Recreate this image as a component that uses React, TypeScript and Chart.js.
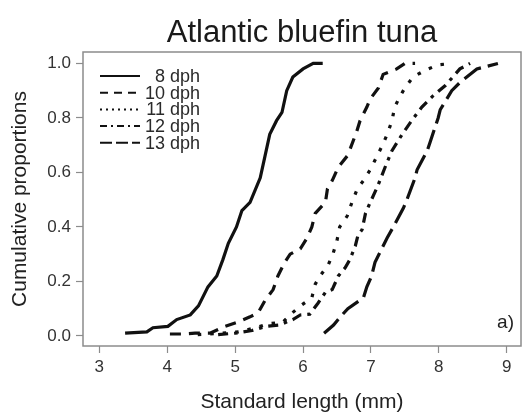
import React, { useEffect, useRef } from "react";
import { Chart, registerables } from "chart.js";

Chart.register(...registerables);

const titleText = "Atlantic bluefin tuna";
const xAxisTitle = "Standard length (mm)";
const yAxisTitle = "Cumulative proportions";
const panelLabel = "a)";

const xTickValues = [3, 4, 5, 6, 7, 8, 9];
const yTickValues = [0, 0.2, 0.4, 0.6, 0.8, 1.0];

const seriesLabels = ["8 dph", "10 dph", "11 dph", "12 dph", "13 dph"];

// 8 dph
const len8 = [3.38, 3.70, 3.79, 4.01, 4.14, 4.34, 4.46, 4.60, 4.73, 4.82, 4.90, 5.02, 5.10, 5.22, 5.37, 5.44, 5.51, 5.61, 5.69, 5.76, 5.85, 6.00, 6.15, 6.29];
const cum8 = [0.01, 0.015, 0.03, 0.035, 0.06, 0.077, 0.11, 0.18, 0.22, 0.28, 0.34, 0.40, 0.46, 0.49, 0.58, 0.66, 0.74, 0.79, 0.82, 0.90, 0.95, 0.98, 1.0, 1.0];

// 10 dph
const len10 = [4.04, 4.23, 4.41, 4.63, 4.85, 5.03, 5.22, 5.34, 5.44, 5.56, 5.63, 5.73, 5.81, 5.96, 6.06, 6.13, 6.18, 6.33, 6.36, 6.43, 6.52, 6.65, 6.70, 6.79, 6.84, 6.94, 6.99, 7.11, 7.18, 7.38, 7.50, 7.65];
const cum10 = [0.007, 0.007, 0.01, 0.01, 0.035, 0.05, 0.07, 0.085, 0.13, 0.17, 0.22, 0.27, 0.30, 0.32, 0.36, 0.40, 0.45, 0.49, 0.54, 0.57, 0.62, 0.66, 0.69, 0.75, 0.79, 0.84, 0.87, 0.91, 0.96, 0.98, 1.0, 1.0];

// 11 dph
const len11 = [4.45, 4.80, 5.05, 5.30, 5.50, 5.70, 5.84, 5.96, 6.13, 6.18, 6.25, 6.37, 6.44, 6.50, 6.54, 6.65, 6.72, 6.80, 6.89, 6.99, 7.09, 7.17, 7.24, 7.31, 7.35, 7.43, 7.50, 7.62, 7.80, 7.99, 8.19];
const cum11 = [0.005, 0.01, 0.015, 0.03, 0.045, 0.05, 0.084, 0.11, 0.14, 0.19, 0.22, 0.26, 0.30, 0.35, 0.40, 0.44, 0.49, 0.54, 0.57, 0.61, 0.66, 0.70, 0.74, 0.79, 0.84, 0.88, 0.91, 0.95, 0.975, 0.995, 1.0];

// 12 dph
const len12 = [4.75, 5.00, 5.25, 5.45, 5.65, 5.85, 5.96, 6.10, 6.22, 6.33, 6.43, 6.52, 6.62, 6.69, 6.77, 6.81, 6.87, 6.92, 6.99, 7.10, 7.21, 7.31, 7.46, 7.60, 7.75, 7.91, 8.10, 8.31, 8.46];
const cum12 = [0.005, 0.01, 0.02, 0.035, 0.04, 0.06, 0.077, 0.08, 0.12, 0.16, 0.17, 0.22, 0.25, 0.28, 0.33, 0.37, 0.39, 0.45, 0.49, 0.55, 0.62, 0.68, 0.74, 0.79, 0.84, 0.88, 0.92, 0.98, 1.0];

// 13 dph
const len13 = [6.31, 6.45, 6.55, 6.66, 6.89, 6.94, 7.01, 7.06, 7.16, 7.24, 7.33, 7.48, 7.53, 7.65, 7.68, 7.83, 7.87, 7.99, 8.02, 8.19, 8.31, 8.56, 8.72, 8.87];
const cum13 = [0.01, 0.04, 0.07, 0.10, 0.14, 0.18, 0.22, 0.27, 0.32, 0.36, 0.40, 0.47, 0.50, 0.58, 0.61, 0.68, 0.71, 0.80, 0.83, 0.90, 0.93, 0.98, 0.99, 1.0];

const FONT = '"Liberation Sans", Arial, Helvetica, sans-serif';

export default function App() {
  const ref = useRef<HTMLCanvasElement>(null);

  useEffect(() => {
    const canvas = ref.current;
    if (!canvas) return;
    const toPts = (xs: number[], ys: number[]) => xs.map((x, i) => ({ x, y: ys[i] }));
    const lens = [len8, len10, len11, len12, len13];
    const cums = [cum8, cum10, cum11, cum12, cum13];
    const dashes = [[], [11, 8], [3.5, 9], [10, 6, 3.5, 6], [20, 7]];
    const legendDashes = [[], [8, 6], [2, 4], [7, 4, 2, 4], [12, 4]];

    const decorPlugin = {
      id: "decor",
      afterDraw(chart: any) {
        const { ctx, chartArea: a } = chart;
        ctx.save();
        // frame
        ctx.strokeStyle = "#8c8c8c";
        ctx.lineWidth = 1.5;
        ctx.setLineDash([]);
        ctx.strokeRect(a.left, a.top, a.right - a.left, a.bottom - a.top);
        // title
        ctx.fillStyle = "#1a1a1a";
        ctx.font = `31px ${FONT}`;
        ctx.textAlign = "center";
        ctx.textBaseline = "alphabetic";
        ctx.fillText(titleText, (a.left + a.right) / 2, a.top - 10);
        // panel label
        ctx.font = `19px ${FONT}`;
        ctx.textAlign = "right";
        ctx.fillStyle = "#222";
        ctx.fillText(panelLabel, a.right - 7, a.bottom - 18);
        // legend
        ctx.font = `18px ${FONT}`;
        ctx.textBaseline = "middle";
        chart.data.datasets.forEach((ds: any, i: number) => {
          const y = a.top + 24 + i * 16.7;
          ctx.strokeStyle = "#111";
          ctx.lineWidth = 2;
          ctx.setLineDash(legendDashes[i]);
          ctx.beginPath();
          ctx.moveTo(a.left + 17, y);
          ctx.lineTo(a.left + 57, y);
          ctx.stroke();
          ctx.setLineDash([]);
          ctx.fillStyle = "#2a2a2a";
          ctx.fillText(ds.label, a.left + 117, y + 1);
        });
        ctx.restore();
      },
    };

    const chart = new Chart(canvas, {
      type: "line",
      data: {
        datasets: seriesLabels.map((label, i) => ({
          label,
          data: toPts(lens[i], cums[i]),
          borderColor: "#111",
          borderWidth: 3.2,
          borderDash: dashes[i],
          borderCapStyle: "butt",
          pointRadius: 0,
          fill: false,
          tension: 0,
        })),
      },
      options: {
        animation: false,
        responsive: false,
        maintainAspectRatio: false,
        layout: { padding: { top: 52, right: 4, left: 0, bottom: 0 } },
        plugins: {
          legend: { display: false },
          title: { display: false },
          tooltip: { enabled: false },
        },
        scales: {
          x: {
            type: "linear",
            min: 2.76,
            max: 9.21,
            afterBuildTicks: (s: any) => {
              s.ticks = xTickValues.map((v) => ({ value: v }));
            },
            afterFit: (s: any) => {
              s.height = 71;
            },
            ticks: {
              color: "#333",
              font: { size: 17, family: FONT },
              padding: 4,
              maxRotation: 0,
              autoSkip: false,
              callback: (v: any) => String(v),
            },
            grid: {
              drawOnChartArea: false,
              drawTicks: true,
              tickLength: 7,
              tickColor: "#8c8c8c",
              tickWidth: 1.2,
            },
            border: { display: false },
            title: {
              display: true,
              text: xAxisTitle,
              color: "#222",
              font: { size: 21, family: FONT },
              padding: { top: 0, bottom: 2 },
            },
          },
          y: {
            type: "linear",
            min: -0.037,
            max: 1.042,
            afterBuildTicks: (s: any) => {
              s.ticks = yTickValues.map((v) => ({ value: v }));
            },
            afterFit: (s: any) => {
              s.width = 83;
            },
            ticks: {
              color: "#333",
              font: { size: 17, family: FONT },
              padding: 5,
              autoSkip: false,
              callback: (v: any) => Number(v).toFixed(1),
            },
            grid: {
              drawOnChartArea: false,
              drawTicks: true,
              tickLength: 7,
              tickColor: "#8c8c8c",
              tickWidth: 1.2,
            },
            border: { display: false },
            title: {
              display: true,
              text: yAxisTitle,
              color: "#222",
              font: { size: 21, family: FONT },
              padding: { top: 8, bottom: 0 },
            },
          },
        },
      },
      plugins: [decorPlugin],
    } as any);

    return () => chart.destroy();
  }, []);

  return (
    <div style={{ position: "fixed", left: 0, top: 0, width: 525, height: 417, background: "#fff" }}>
      <canvas ref={ref} width={525} height={417} />
    </div>
  );
}
